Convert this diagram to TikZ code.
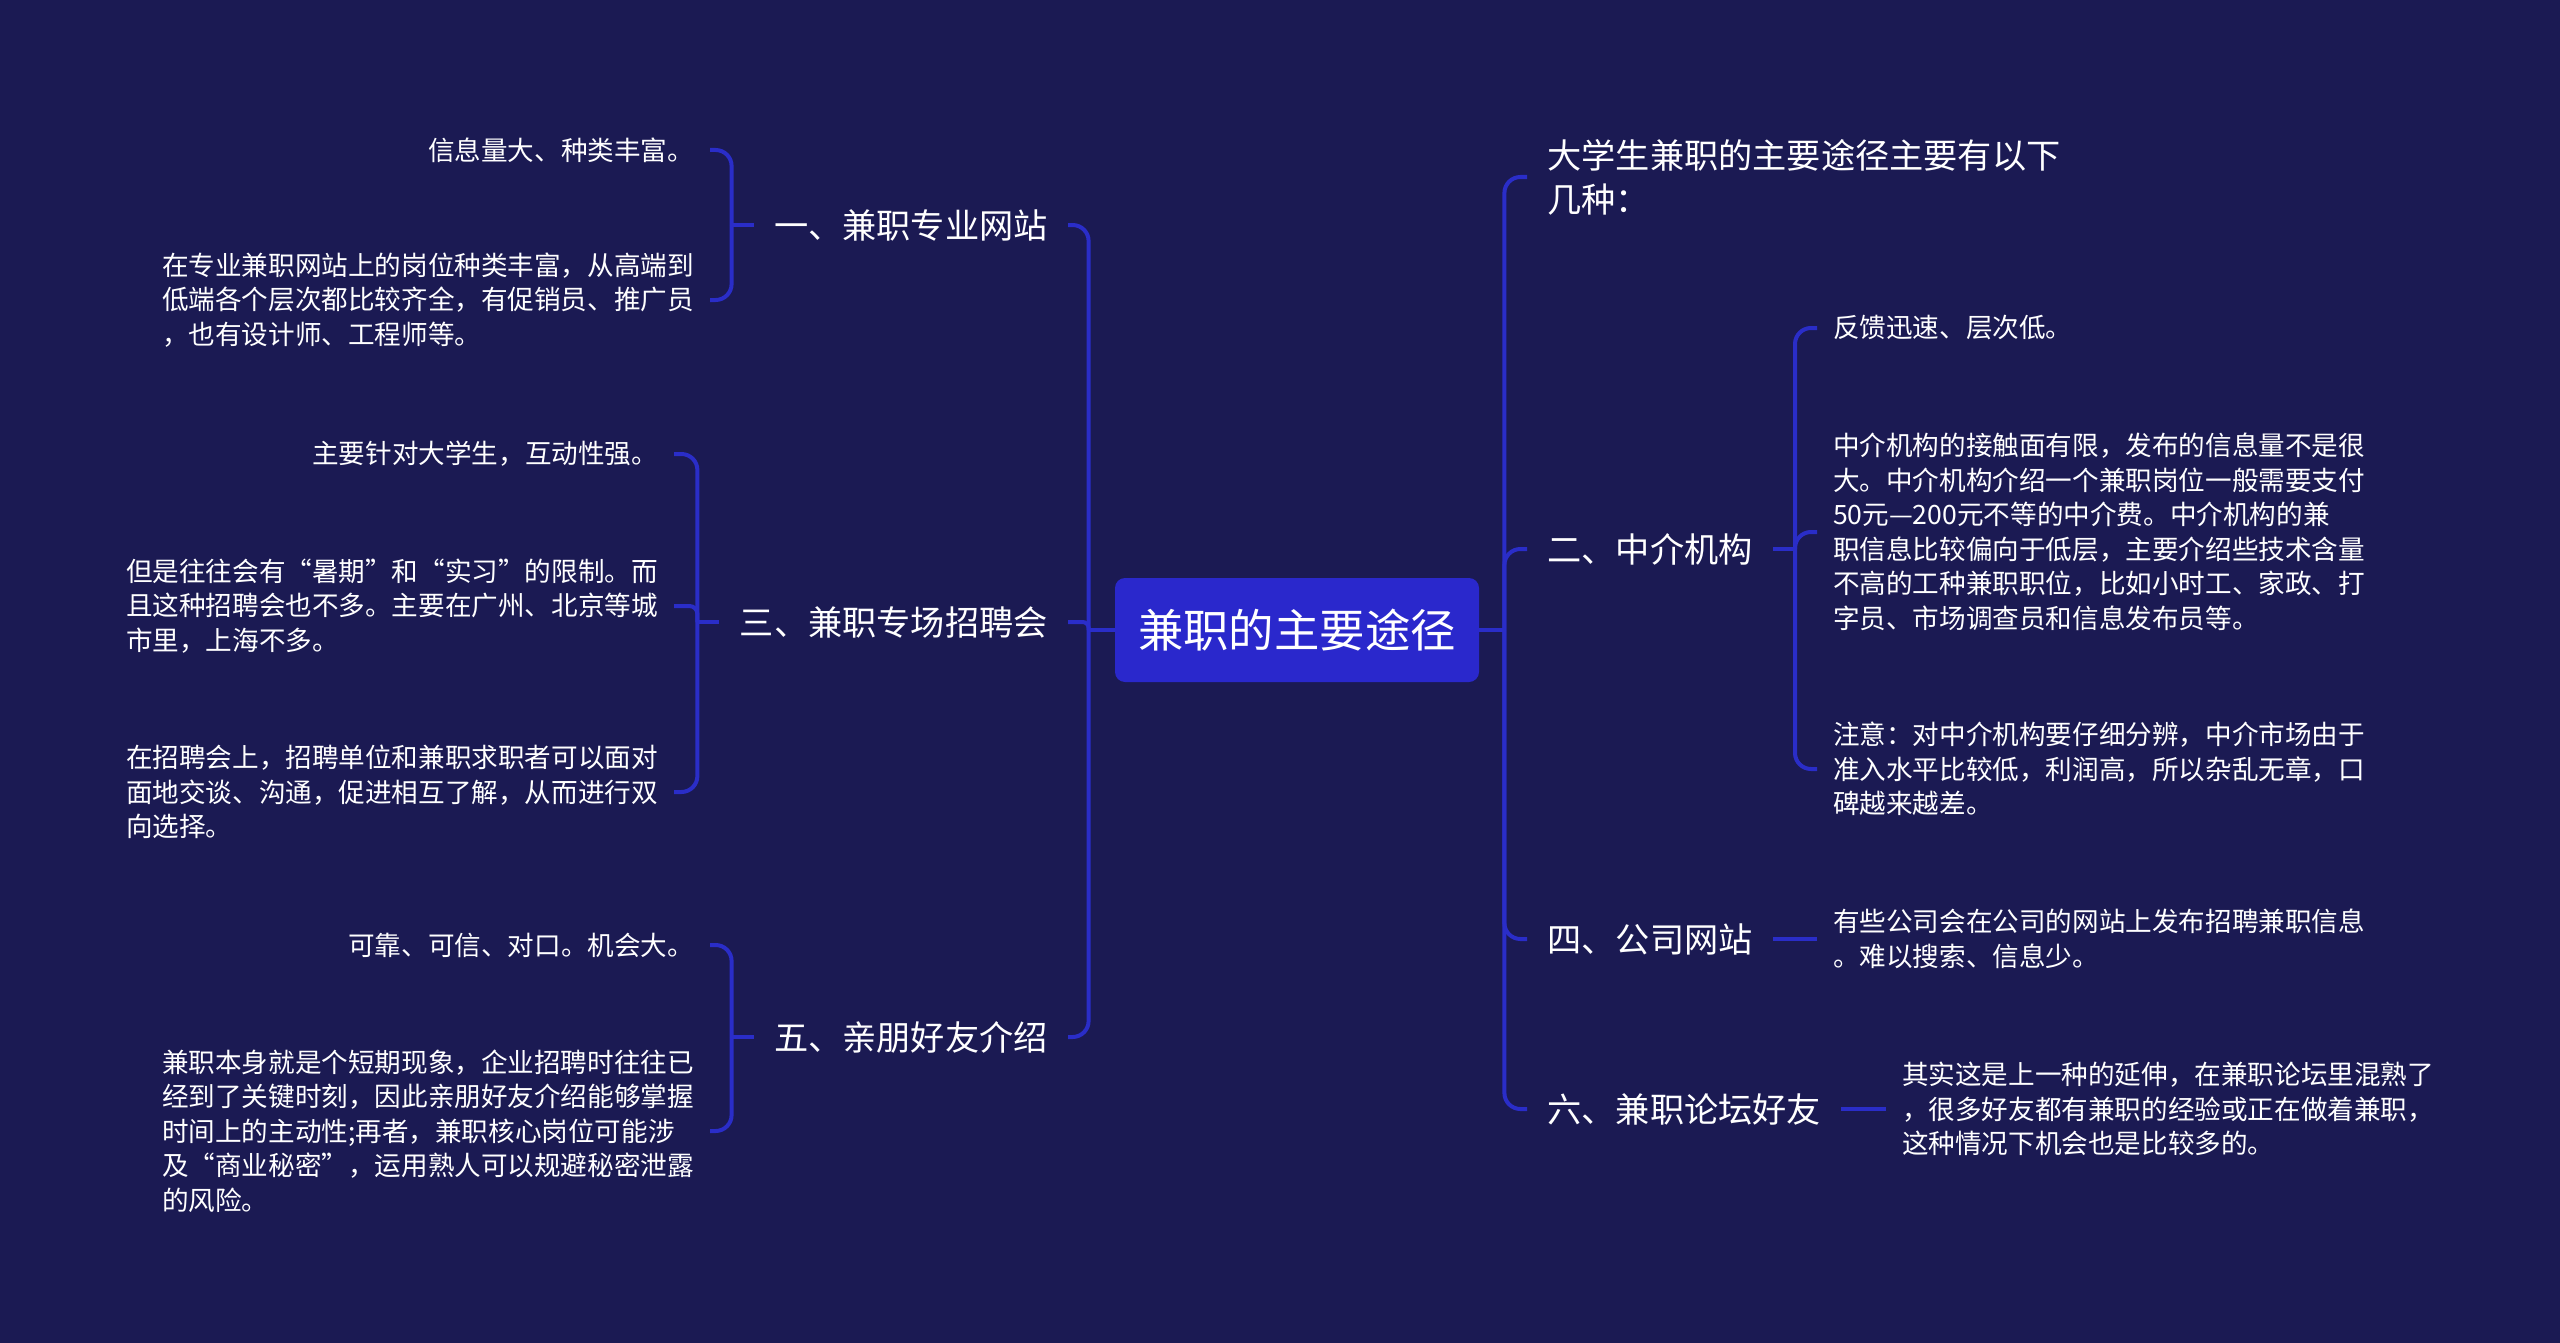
\documentclass[tikz,border=0pt]{standalone}
\usepackage{fontspec}
\setmainfont{Noto Sans CJK SC}
\definecolor{bg}{RGB}{27,26,83}
\definecolor{ln}{RGB}{42,45,200}
\definecolor{cbox}{RGB}{42,40,204}
\tikzset{
  conn/.style={draw=ln, line width=2pt, rounded corners=8pt},
  lvl/.style={text=white, font=\fontsize{17.1}{22}\selectfont, inner xsep=10pt, inner ysep=4pt, align=left},
  leaf/.style={text=white, font=\fontsize{13.3}{17.25}\selectfont, inner xsep=7.8pt, inner ysep=3pt, align=left},
  rootbox/.style={fill=cbox, text=white, rounded corners=5pt, font=\fontsize{22.7}{27}\selectfont, minimum width=182pt, minimum height=52pt, inner sep=0pt}
}
\begin{document}
\begin{tikzpicture}[x=0.5pt,y=-0.5pt]
\fill[bg] (0,0) rectangle (2560,1343);
\useasboundingbox (0,0) rectangle (2560,1343);

\node[rootbox] (root) at (1297,630) {兼职的主要途径};

% left level 1
\node[lvl, anchor=east] (n1) at (1068,225) {一、兼职专业网站};
\node[lvl, anchor=east] (n3) at (1068,622) {三、兼职专场招聘会};
\node[lvl, anchor=east] (n5) at (1068,1037) {五、亲朋好友介绍};
% right level 1
\node[lvl, anchor=west] (r0) at (1527,177) {大学生兼职的主要途径主要有以下\\几种：};
\node[lvl, anchor=west] (n2) at (1527,549) {二、中介机构};
\node[lvl, anchor=west] (n4) at (1527,939) {四、公司网站};
\node[lvl, anchor=west] (n6) at (1527,1109) {六、兼职论坛好友};

% left leaves
\node[leaf, anchor=east] (a1) at (710,150) {信息量大、种类丰富。};
\node[leaf, anchor=east] (a2) at (710,300) {在专业兼职网站上的岗位种类丰富，从高端到\\低端各个层次都比较齐全，有促销员、推广员\\，也有设计师、工程师等。};
\node[leaf, anchor=east] (b1) at (674,454) {主要针对大学生，互动性强。};
\node[leaf, anchor=east] (b2) at (674,606) {但是往往会有“暑期”和“实习”的限制。而\\且这种招聘会也不多。主要在广州、北京等城\\市里，上海不多。};
\node[leaf, anchor=east] (b3) at (674,792) {在招聘会上，招聘单位和兼职求职者可以面对\\面地交谈、沟通，促进相互了解，从而进行双\\向选择。};
\node[leaf, anchor=east] (c1) at (710,945) {可靠、可信、对口。机会大。};
\node[leaf, anchor=east] (c2) at (710,1131) {兼职本身就是个短期现象，企业招聘时往往已\\经到了关键时刻，因此亲朋好友介绍能够掌握\\时间上的主动性;再者，兼职核心岗位可能涉\\及“商业秘密”，运用熟人可以规避秘密泄露\\的风险。};

% right leaves
\node[leaf, anchor=west] (d1) at (1817,328) {反馈迅速、层次低。};
\node[leaf, anchor=west] (d2) at (1817,532) {中介机构的接触面有限，发布的信息量不是很\\大。中介机构介绍一个兼职岗位一般需要支付\\50元—200元不等的中介费。中介机构的兼\\职信息比较偏向于低层，主要介绍些技术含量\\不高的工种兼职职位，比如小时工、家政、打\\字员、市场调查员和信息发布员等。};
\node[leaf, anchor=west] (d3) at (1817,769) {注意：对中介机构要仔细分辨，中介市场由于\\准入水平比较低，利润高，所以杂乱无章，口\\碑越来越差。};
\node[leaf, anchor=west] (e1) at (1817,939) {有些公司会在公司的网站上发布招聘兼职信息\\。难以搜索、信息少。};
\node[leaf, anchor=west] (f1) at (1886,1109) {其实这是上一种的延伸，在兼职论坛里混熟了\\，很多好友都有兼职的经验或正在做着兼职，\\这种情况下机会也是比较多的。};

% root to level 1 (left)
\draw[conn] (root.west) -- ++(-26,0);
\draw[conn] (root.west) ++(-26,0) |- (n1.east);
\draw[conn, rounded corners=3pt] (root.west) ++(-26,0) |- (n3.east);
\draw[conn] (root.west) ++(-26,0) |- (n5.east);
% root to level 1 (right)
\draw[conn] (root.east) -- ++(25,0);
\draw[conn] (root.east) ++(25,0) |- (r0.west);
\draw[conn] (root.east) ++(25,0) |- (n2.west);
\draw[conn] (root.east) ++(25,0) |- (n4.west);
\draw[conn] (root.east) ++(25,0) |- (n6.west);

% level 1 to leaves (left)
\draw[conn] (n1.west) -- ++(-22,0);
\draw[conn] (n1.west) ++(-22,0) |- (a1.east);
\draw[conn] (n1.west) ++(-22,0) |- (a2.east);
\draw[conn] (n3.west) -- ++(-22,0);
\draw[conn] (n3.west) ++(-22,0) |- (b1.east);
\draw[conn, rounded corners=4pt] (n3.west) ++(-22,0) |- (b2.east);
\draw[conn] (n3.west) ++(-22,0) |- (b3.east);
\draw[conn] (n5.west) -- ++(-22,0);
\draw[conn] (n5.west) ++(-22,0) |- (c1.east);
\draw[conn] (n5.west) ++(-22,0) |- (c2.east);

% level 1 to leaves (right)
\draw[conn] (n2.east) -- ++(22,0);
\draw[conn] (n2.east) ++(22,0) |- (d1.west);
\draw[conn] (n2.east) ++(22,0) |- (d2.west);
\draw[conn] (n2.east) ++(22,0) |- (d3.west);
\draw[conn] (n4.east) -- (e1.west);
\draw[conn] (n6.east) -- (f1.west);
\end{tikzpicture}
\end{document}
